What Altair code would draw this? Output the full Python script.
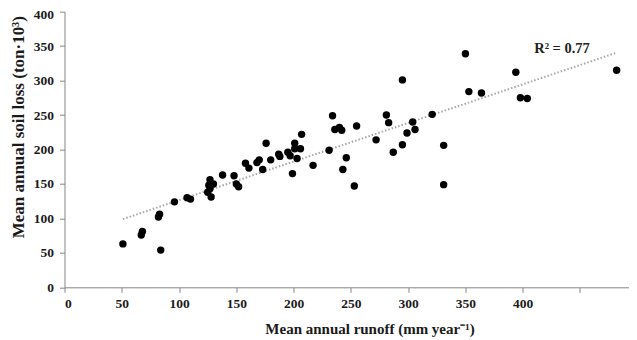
import altair as alt
import pandas as pd

runoff = [51, 67, 68, 82, 83, 84, 96, 107, 110, 125, 126, 127, 127, 128, 130,
          138, 148, 150, 152, 158, 161, 168, 170, 173, 176, 180, 187, 188, 195,
          197, 199, 201, 201, 203, 206, 207, 217, 231, 234, 236, 240, 242, 243,
          246, 253, 255, 272, 281, 283, 287, 295, 295, 299, 304, 306, 321, 331,
          331, 350, 353, 364, 394, 398, 404, 482]
soil_loss = [63, 76, 81, 102, 106, 54, 124, 130, 128, 138, 148, 156, 143, 131, 150,
             163, 162, 150, 146, 180, 173, 181, 185, 171, 209, 185, 193, 190, 196,
             191, 165, 209, 201, 187, 201, 222, 177, 199, 249, 229, 232, 228, 171,
             188, 147, 234, 214, 250, 239, 196, 301, 207, 224, 240, 229, 251, 206,
             149, 339, 284, 282, 312, 275, 274, 315]

x_ticks = [0, 50, 100, 150, 200, 250, 300, 350, 400, 450]
y_ticks = [0, 50, 100, 150, 200, 250, 300, 350, 400]
r2_label = "R² = 0.77"

df = pd.DataFrame({"runoff": runoff, "soil_loss": soil_loss})

FONT = "Liberation Serif"

x_enc = alt.X(
    "runoff:Q",
    scale=alt.Scale(domain=[0, 492.8], nice=False, zero=False),
    axis=alt.Axis(
        title="Mean annual runoff (mm year⁻¹)",
        values=x_ticks,
        labelExpr="datum.value <= 400 ? datum.label : ''",
        grid=False,
        tickSize=5,
        labelPadding=4,
        titleX=305,
        titleY=46.5,
        titleBaseline="alphabetic",
        titleAnchor="middle",
        titleAlign="center",
    ),
)
y_enc = alt.Y(
    "soil_loss:Q",
    scale=alt.Scale(domain=[0, 400], nice=False),
    axis=alt.Axis(
        title="Mean annual soil loss (ton·10³)",
        values=y_ticks,
        grid=False,
        tickSize=5,
        labelPadding=6,
        labelOffset=alt.condition("datum.value == 400", alt.value(3.2), alt.value(0)),
        titleX=-41,
        titleY=115,
        titleFontSize=17,
        titleBaseline="alphabetic",
        titleAlign="center",
        titleAngle=270,
    ),
)

base = alt.Chart(df)

trend = base.transform_regression("runoff", "soil_loss").mark_line(
    color="#a6a6a6", strokeDash=[1.5, 2], strokeWidth=2
).encode(x=x_enc, y=y_enc)

points = base.mark_circle(size=55, color="#000000", opacity=1).encode(x=x_enc, y=y_enc)

label = alt.Chart(pd.DataFrame({"t": [r2_label]})).mark_text(
    font=FONT, fontSize=14.5, fontWeight="bold", color="#222222",
    align="center", baseline="alphabetic"
).encode(text="t:N", x=alt.value(497.5), y=alt.value(41))

chart = alt.layer(trend, points, label).properties(
    width=564.5,
    height=275.6,
    autosize=alt.AutoSizeParams(type="none"),
    padding={"left": 56.5, "top": 3.7, "right": 0, "bottom": 50},
).configure_view(stroke=None).configure_axis(
    labelFont=FONT,
    labelFontSize=13.5,
    labelFontWeight="bold",
    labelColor="#1a1a1a",
    titleFont=FONT,
    titleFontSize=15,
    titleFontWeight="bold",
    titleColor="#1a1a1a",
    domainColor="#868686",
    tickColor="#868686",
    domainWidth=1,
    tickWidth=1,
)

chart.save("out.html", embed_options={"renderer": "svg", "actions": False})
